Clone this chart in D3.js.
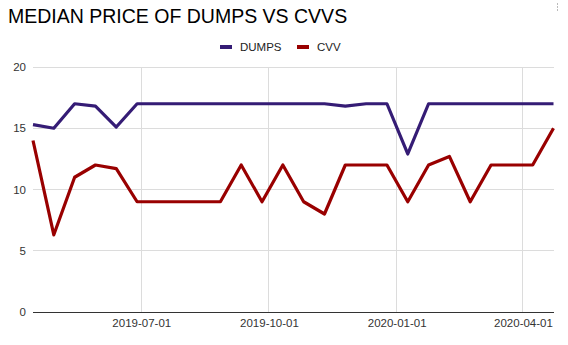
<!DOCTYPE html>
<html><head><meta charset="utf-8">
<script src="https://cdn.jsdelivr.net/npm/d3@7"></script>
<style>
body{margin:0;background:#fff;}
svg{display:block;font-family:"Liberation Sans",Arial,sans-serif;}
</style>
</head><body>
<svg id="c" width="568" height="345"></svg>
<script>
// ---- data ----
const dates = ["2019-04-14","2019-04-29","2019-05-14","2019-05-29","2019-06-13","2019-06-28",
  "2019-07-13","2019-07-28","2019-08-12","2019-08-27","2019-09-11","2019-09-26",
  "2019-10-11","2019-10-26","2019-11-10","2019-11-25","2019-12-10","2019-12-25",
  "2020-01-09","2020-01-24","2020-02-08","2020-02-23","2020-03-09","2020-03-24",
  "2020-04-08","2020-04-23"];
const dumps = [15.3,15.0,17,16.8,15.1,17,17,17,17,17,17,17,17,17,17,16.8,17,17,12.9,17,17,17,17,17,17,17];
const cvv   = [14,6.3,11,12,11.7,9,9,9,9,9,12,9,12,9,8,12,12,12,9,12,12.7,9,12,12,12,15];
const seriesNames = ["DUMPS","CVV"];
const seriesColors = ["#351c75","#990000"];
const yTicks = [0,5,10,15,20];
const xTicks = ["2019-07-01","2019-10-01","2020-01-01","2020-04-01"];
const title = "MEDIAN PRICE OF DUMPS VS CVVS";

// ---- chart ----
const parse = d3.timeParse("%Y-%m-%d");
const fmt = d3.timeFormat("%Y-%m-%d");
const svg = d3.select("#c");
const L = 33, R = 554, T = 67, B = 312;

const x = d3.scaleTime().domain(d3.extent(dates, parse)).range([L, 553.5]);
const y = d3.scaleLinear().domain([0, 20]).range([B, T]);

// title
svg.append("text").attr("x", 8).attr("y", 23)
  .attr("font-size", "19.5px").attr("fill", "#000").text(title);

// menu dots
svg.append("g").selectAll("rect").data([0,1,2]).join("rect")
  .attr("x", 557).attr("y", d => 3 + d * 3).attr("width", 1).attr("height", 2).attr("fill", "#bbb");

// legend
const legend = svg.append("g").attr("font-size", "11.5px");
const legX = [220, 297];
seriesNames.forEach((n, i) => {
  legend.append("rect").attr("x", legX[i]).attr("y", 45).attr("width", 12).attr("height", 4)
    .attr("fill", seriesColors[i]);
  legend.append("text").attr("x", legX[i] + 20).attr("y", 51).attr("fill", "#222").text(n);
});

// horizontal gridlines
svg.append("g").selectAll("line").data(yTicks.filter(v => v !== 0)).join("line")
  .attr("x1", L).attr("x2", R).attr("y1", d => y(d)).attr("y2", d => y(d))
  .attr("stroke", "#dcdcdc").attr("stroke-width", 1).attr("shape-rendering", "crispEdges");

// vertical gridlines
svg.append("g").selectAll("line").data(xTicks.map(parse)).join("line")
  .attr("x1", d => x(d)).attr("x2", d => x(d)).attr("y1", T).attr("y2", B)
  .attr("stroke", "#dcdcdc").attr("stroke-width", 1).attr("shape-rendering", "crispEdges");

// y axis labels
const yAxis = svg.append("g").attr("transform", `translate(${L},0)`)
  .call(d3.axisLeft(y).tickValues(yTicks).tickSize(0).tickPadding(7));
yAxis.select(".domain").remove();
yAxis.selectAll("text").attr("font-size", "11.5px").attr("fill", "#333")
  .attr("font-family", "'Liberation Sans',Arial,sans-serif");

// x axis labels
const xAxis = svg.append("g").attr("transform", `translate(0,${B})`)
  .call(d3.axisBottom(x).tickValues(xTicks.map(parse)).tickFormat(fmt).tickSize(0).tickPadding(7));
xAxis.select(".domain").remove();
xAxis.selectAll("text").attr("font-size", "11.5px").attr("fill", "#333")
  .attr("font-family", "'Liberation Sans',Arial,sans-serif");

// baseline
svg.append("line").attr("x1", L).attr("x2", R).attr("y1", y(0)).attr("y2", y(0))
  .attr("stroke", "#333").attr("stroke-width", 1).attr("shape-rendering", "crispEdges");

// lines
const line = d3.line().x((d, i) => x(parse(dates[i]))).y(d => y(d));
[dumps, cvv].forEach((s, i) => {
  svg.append("path").datum(s).attr("d", line).attr("fill", "none")
    .attr("stroke", seriesColors[i]).attr("stroke-width", 3.2)
    .attr("stroke-linejoin", "round").attr("stroke-linecap", "butt");
});
</script>
</body></html>
